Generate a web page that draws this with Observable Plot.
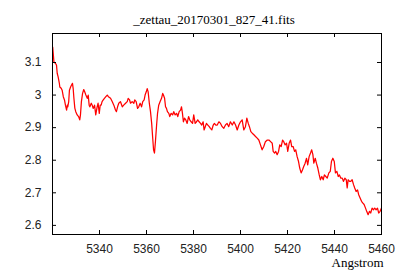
<!DOCTYPE html>
<html><head><meta charset="utf-8">
<script src="https://cdn.jsdelivr.net/npm/d3@7"></script>
<script src="https://cdn.jsdelivr.net/npm/@observablehq/plot@0.6"></script>
<style>html,body{margin:0;padding:0;background:#fff}</style>
</head><body><div id="chart"></div>
<script>
const title = "_zettau_20170301_827_41.fits";
const xLabel = "Angstrom";
const xTicks = [5340, 5360, 5380, 5400, 5420, 5440, 5460];
const yTicks = [2.6, 2.7, 2.8, 2.9, 3.0, 3.1];
const wavelength = [
5320.1,5320.6,5321.3,5321.7,5322.0,5322.4,5322.9,5323.1,5323.7,5324.1,5324.6,5325.1,5325.5,5326.0,5326.3,5326.5,5326.9,5327.2,5327.7,5328.1,
5328.5,5328.8,5329.1,5329.5,5329.9,5330.5,5331.1,5331.6,5331.9,5332.3,5332.8,5333.3,5333.7,5334.2,5334.8,5335.2,5335.6,5335.9,5336.5,5336.9,
5337.3,5337.9,5338.4,5339.0,5339.4,5339.9,5340.3,5340.7,5341.1,5341.6,5342.1,5342.7,5343.3,5343.8,5344.7,5345.4,5346.1,5346.8,5347.2,5347.7,
5348.2,5348.9,5349.7,5350.3,5351.1,5351.8,5352.2,5352.8,5353.2,5353.9,5354.6,5355.0,5355.6,5356.2,5356.7,5357.3,5357.9,5358.4,5359.0,5359.4,
5359.9,5360.3,5360.7,5361.2,5361.7,5362.2,5362.6,5363.0,5363.4,5363.8,5364.3,5364.7,5365.2,5365.8,5366.4,5366.9,5367.2,5367.7,5368.1,5368.5,
5368.9,5369.5,5369.9,5370.5,5371.1,5371.6,5372.2,5372.8,5373.3,5373.9,5374.5,5374.9,5375.3,5375.7,5376.2,5376.7,5377.3,5377.9,5378.4,5379.0,
5379.6,5380.1,5380.7,5381.3,5381.8,5382.4,5383.0,5383.5,5384.1,5384.5,5385.0,5385.5,5386.1,5386.7,5387.2,5387.8,5388.4,5388.9,5389.5,5390.1,
5390.8,5391.5,5392.2,5392.9,5393.6,5394.3,5395.0,5395.7,5396.5,5397.2,5397.9,5398.6,5399.3,5400.0,5400.7,5401.4,5402.1,5402.7,5403.3,5403.8,
5404.4,5405.0,5405.7,5406.4,5407.1,5407.8,5408.5,5409.2,5409.9,5410.6,5411.4,5412.1,5412.8,5413.5,5413.9,5414.5,5415.0,5415.6,5416.2,5416.7,
5417.3,5417.9,5418.4,5419.0,5419.6,5420.1,5420.7,5421.3,5421.8,5422.4,5423.0,5423.5,5424.1,5424.7,5425.2,5425.8,5426.4,5426.9,5427.5,5428.1,
5428.6,5429.2,5429.8,5430.3,5430.8,5431.2,5431.8,5432.3,5432.9,5433.5,5434.0,5434.6,5435.2,5435.7,5436.3,5436.9,5437.6,5438.2,5438.7,5439.3,
5439.9,5440.4,5441.0,5441.6,5442.1,5442.7,5443.3,5443.8,5444.4,5445.0,5445.4,5445.8,5446.4,5446.9,5447.5,5448.1,5448.6,5449.2,5449.8,5450.3,
5450.9,5451.5,5452.0,5452.6,5453.2,5453.7,5454.3,5454.9,5455.4,5456.0,5456.6,5457.1,5457.7,5458.3,5458.8,5459.4,5460.0
];
const flux = [
3.147,3.102,3.097,3.092,3.067,3.056,3.037,3.025,3.021,3.015,2.995,2.985,2.969,2.954,2.969,2.964,2.980,3.015,3.025,3.031,
3.036,3.020,2.991,2.960,2.949,2.939,2.934,2.924,2.939,2.980,3.005,3.017,3.010,3.000,2.990,3.000,2.969,2.964,2.975,2.969,
2.959,2.969,2.939,2.964,2.975,2.944,2.969,2.969,2.980,2.985,2.990,2.995,3.000,2.995,2.990,2.980,2.969,2.954,2.949,2.964,
2.975,2.980,2.964,2.969,2.975,2.980,2.990,2.985,2.975,2.980,2.975,2.985,2.980,2.959,2.964,2.975,2.964,2.980,2.985,3.000,
3.010,3.020,3.010,2.975,2.949,2.913,2.872,2.832,2.822,2.857,2.908,2.944,2.969,2.980,2.990,3.005,3.000,2.990,2.964,2.959,
2.949,2.944,2.934,2.944,2.939,2.949,2.939,2.944,2.934,2.949,2.954,2.964,2.944,2.918,2.929,2.924,2.913,2.934,2.924,2.918,
2.913,2.939,2.913,2.918,2.924,2.918,2.913,2.908,2.918,2.893,2.903,2.913,2.908,2.903,2.898,2.893,2.908,2.913,2.908,2.908,
2.918,2.913,2.903,2.898,2.908,2.913,2.903,2.918,2.908,2.918,2.908,2.893,2.908,2.918,2.924,2.893,2.903,2.929,2.913,2.903,
2.888,2.883,2.878,2.873,2.868,2.862,2.847,2.832,2.842,2.857,2.862,2.862,2.857,2.852,2.827,2.822,2.827,2.817,2.827,2.847,
2.842,2.862,2.857,2.847,2.852,2.827,2.852,2.862,2.842,2.842,2.827,2.832,2.811,2.796,2.776,2.761,2.771,2.781,2.791,2.806,
2.786,2.811,2.822,2.832,2.817,2.791,2.806,2.791,2.776,2.755,2.740,2.750,2.740,2.755,2.750,2.745,2.761,2.766,2.796,2.806,
2.796,2.761,2.766,2.750,2.755,2.745,2.745,2.735,2.745,2.740,2.715,2.740,2.735,2.735,2.740,2.725,2.715,2.704,2.709,2.694,
2.684,2.674,2.669,2.664,2.653,2.643,2.633,2.643,2.638,2.653,2.648,2.653,2.648,2.653,2.638,2.643,2.653
];
const data = wavelength.map((w, i) => ({w, f: flux[i]}));
const W = 400, H = 280, mL = 52, mR = 19, mT = 33, mB = 46;
const fw = W - mL - mR, fh = H - mT - mB, tick = 4;
const chart = Plot.plot({
  width: W, height: H,
  marginLeft: mL, marginRight: mR, marginTop: mT, marginBottom: mB,
  style: {background: "#fff", fontFamily: "'Liberation Sans', sans-serif", fontSize: "12px", color: "#000"},
  x: {domain: [5320, 5460]},
  y: {domain: [2.572, 3.189]},
  marks: [
    Plot.line(data, {x: "w", y: "f", stroke: "#ff0000", strokeWidth: 1.25, clip: true}),
    Plot.axisX(xTicks, {anchor: "bottom", tickSize: 0, tickPadding: 10, label: null, tickFormat: d => String(d), fill: "#222"}),
    Plot.axisY(yTicks, {anchor: "left", tickSize: 0, tickPadding: 11, label: null, tickFormat: d => String(d), fill: "#222"}),
    Plot.ruleX(xTicks, {x: d => d, insetTop: fh - tick, stroke: "#000"}),
    Plot.ruleX(xTicks, {x: d => d, insetBottom: fh - tick, stroke: "#000"}),
    Plot.ruleY(yTicks, {y: d => d, insetRight: fw - tick, stroke: "#000"}),
    Plot.ruleY(yTicks, {y: d => d, insetLeft: fw - tick, stroke: "#000"}),
    Plot.frame({stroke: "#000", strokeWidth: 1}),
    Plot.text([title], {text: d => d, frameAnchor: "top", dx: -3, dy: -14, lineAnchor: "middle", fontFamily: "'Liberation Serif', serif", fontSize: 13, fill: "#000"}),
    Plot.text([xLabel], {text: d => d, frameAnchor: "bottom-right", textAnchor: "end", dx: 2, dy: 28, lineAnchor: "middle", fontFamily: "'Liberation Serif', serif", fontSize: 13, fill: "#000"})
  ]
});
document.getElementById("chart").appendChild(chart);
</script>
</body></html>
